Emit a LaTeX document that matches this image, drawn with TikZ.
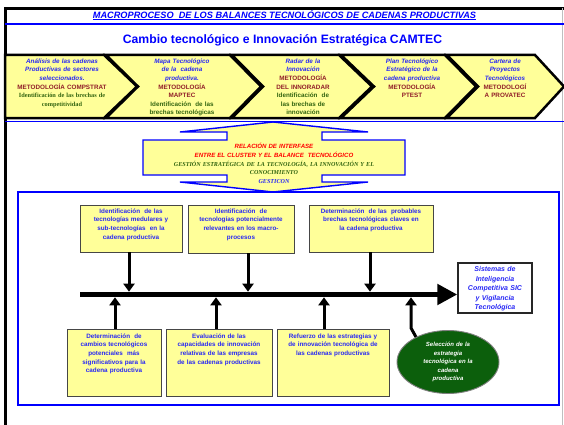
\documentclass[tikz,border=0pt]{standalone}
\usepackage{fontspec}
\setmainfont{Liberation Sans}
\newfontfamily\timesfont{Liberation Serif}
\usetikzlibrary{arrows.meta,shapes.geometric}
\definecolor{pale}{RGB}{255,255,153}
\definecolor{txtblue}{RGB}{40,40,245}
\definecolor{metred}{RGB}{145,30,40}
\definecolor{brgreen}{RGB}{50,100,15}
\definecolor{selgreen}{RGB}{12,95,12}
\definecolor{edge}{RGB}{70,70,70}
\tikzstyle{chev} = [draw=black, line width=2.5pt, fill=pale]
\tikzstyle{chevtext} = [align=center, inner sep=0pt, text width=110pt, font=\fontsize{6.3}{8.6}\selectfont\bfseries]
\tikzstyle{box} = [draw=edge, line width=0.9pt, fill=pale, inner sep=0pt]
\tikzstyle{boxtext} = [align=center, inner sep=0pt, text width=125pt, text=txtblue, font=\fontsize{6.3}{8.6}\selectfont\bfseries]
\tikzstyle{feed} = [-{Triangle[length=8pt,width=11pt]}, line width=3pt]
\tikzstyle{mainline} = [-{Triangle[length=20pt,width=20pt]}, line width=5.5pt]

\begin{document}
\begin{tikzpicture}[x=1pt,y=-1pt]
    \useasboundingbox (0,0) rectangle (564,425);
    % marco y titulos
    \draw[line width=3pt] (5,425) -- (5,8.5) -- (564,8.5);
    \draw[gray!50, line width=0.6pt] (562.5,8.5) -- (562.5,425);
    \draw[blue, line width=1.3pt] (5,24) -- (564,24);
    \node[text=blue, font=\fontsize{9.2}{10}\selectfont\bfseries\itshape] (macro) at (284.5,15) {\underline{MACROPROCESO\ \ DE LOS BALANCES TECNOLÓGICOS DE CADENAS PRODUCTIVAS}};
    \node[text=blue, font=\fontsize{12.2}{13}\selectfont\bfseries] (camtec) at (282.5,40) {Cambio tecnológico e Innovación Estratégica CAMTEC};

    % cadena de metodologias
    \filldraw[chev] (5,55) -- (104,55) -- (137,86.5) -- (104,118) -- (5,118) -- cycle;
    \filldraw[chev] (106,55) -- (230,55) -- (261,86.5) -- (230,118) -- (106,118) -- (138,86.5) -- cycle;
    \filldraw[chev] (232,55) -- (339,55) -- (372,86.5) -- (339,118) -- (232,118) -- (263,86.5) -- cycle;
    \filldraw[chev] (341,55) -- (445,55) -- (476,86.5) -- (445,118) -- (341,118) -- (374,86.5) -- cycle;
    \filldraw[chev] (447,55) -- (535,55) -- (564,86.5) -- (535,118) -- (447,118) -- (478,86.5) -- cycle;
    \draw[blue, line width=1.3pt] (5,121.5) -- (564,121.5);

    \node[chevtext, anchor=north] (compstrat) at (62,58.5) {\textcolor{txtblue}{\itshape Análisis de las cadenas}\\ \textcolor{txtblue}{\itshape Productivas de sectores}\\ \textcolor{txtblue}{\itshape seleccionados.}\\ \textcolor{metred}{METODOLOGÍA COMPSTRAT}\\ \textcolor{brgreen}{\timesfont Identificación de las brechas de}\\ \textcolor{brgreen}{\timesfont competitividad}};
    \node[chevtext, anchor=north] (maptec) at (182,58.5) {\textcolor{txtblue}{\itshape Mapa Tecnológico}\\ \textcolor{txtblue}{\itshape de la\ \ cadena}\\ \textcolor{txtblue}{\itshape productiva.}\\ \textcolor{metred}{METODOLOGÍA}\\ \textcolor{metred}{MAPTEC}\\ \textcolor{brgreen}{Identificación\ \ de las}\\ \textcolor{brgreen}{brechas tecnológicas}};
    \node[chevtext, anchor=north] (innoradar) at (303,58.5) {\textcolor{txtblue}{\itshape Radar de la}\\ \textcolor{txtblue}{\itshape Innovación}\\ \textcolor{metred}{METODOLOGÍA}\\ \textcolor{metred}{DEL INNORADAR}\\ \textcolor{brgreen}{Identificación\ \ de}\\ \textcolor{brgreen}{las brechas de}\\ \textcolor{brgreen}{innovación}};
    \node[chevtext, anchor=north] (ptest) at (412,58.5) {\textcolor{txtblue}{\itshape Plan Tecnológico}\\ \textcolor{txtblue}{\itshape Estratégico de la}\\ \textcolor{txtblue}{\itshape cadena productiva}\\ \textcolor{metred}{METODOLOGÍA}\\ \textcolor{metred}{PTEST}};
    \node[chevtext, anchor=north] (provatec) at (505,58.5) {\textcolor{txtblue}{\itshape Cartera de}\\ \textcolor{txtblue}{\itshape Proyectos}\\ \textcolor{txtblue}{\itshape Tecnológicos}\\ \textcolor{metred}{METODOLOGÍ}\\ \textcolor{metred}{A PROVATEC}};

    % relacion de interfase
    \filldraw[draw=blue, line width=1.4pt, fill=pale] (273,122) -- (368,132) -- (322,132) -- (322,140) -- (405,140) -- (405,175) -- (322,175) -- (322,182) -- (368,182) -- (273,192) -- (180,182) -- (227,182) -- (227,175) -- (143,175) -- (143,140) -- (227,140) -- (227,132) -- (180,132) -- cycle;
    \node[chevtext, text width=250pt, font=\fontsize{6.1}{8.7}\selectfont\bfseries] (gesticon) at (274,163.5) {\textcolor{red}{\itshape RELACIÓN DE INTERFASE}\\ \textcolor{red}{\itshape ENTRE EL CLUSTER Y EL BALANCE\ \ TECNOLÓGICO}\\ \textcolor{brgreen}{\timesfont\itshape GESTIÓN ESTRATÉGICA DE LA TECNOLOGÍA, LA INNOVACIÓN Y EL}\\ \textcolor{brgreen}{\timesfont\itshape CONOCIMIENTO}\\ \textcolor{txtblue}{\timesfont\itshape GESTICON}};

    % balance tecnologico
    \draw[blue, line width=2pt] (18,192) rectangle (559,404.5);

    \node[box, minimum width=102pt, minimum height=47pt] (idmed) at (131,228.5) {};
    \node[box, minimum width=106pt, minimum height=48pt] (idpot) at (241,229) {};
    \node[box, minimum width=124pt, minimum height=47pt] (detbre) at (371,228.5) {};
    \node[box, minimum width=94pt, minimum height=67pt] (detcam) at (114,362.5) {};
    \node[box, minimum width=106pt, minimum height=67pt] (evacap) at (219,362.5) {};
    \node[box, minimum width=112pt, minimum height=67pt] (refest) at (333,362.5) {};

    \node[boxtext, anchor=north] (idmedtx) at ([yshift=-4pt]idmed.north) {Identificación\ \ de las\\ tecnologías medulares y\\ sub-tecnologías\ \ en la\\ cadena productiva};
    \node[boxtext, anchor=north] (idpottx) at ([yshift=-4pt]idpot.north) {Identificación\ \ de\\ tecnologías potencialmente\\ relevantes en los macro-\\ procesos};
    \node[boxtext, anchor=north] (detbretx) at ([yshift=-4pt]detbre.north) {Determinación\ \ de las\ \ probables\\ brechas tecnológicas claves en\\ la cadena productiva};
    \node[boxtext, anchor=north] (detcamtx) at ([yshift=-5pt]detcam.north) {Determinación\ \ de\\ cambios tecnológicos\\ potenciales\ \ más\\ significativos para la\\ cadena productiva};
    \node[boxtext, anchor=north] (evacaptx) at ([yshift=-5pt]evacap.north) {Evaluación de las\\ capacidades de innovación\\ relativas de las empresas\\ de las cadenas productivas};
    \node[boxtext, anchor=north] (refesttx) at ([yshift=-5pt]refest.north) {Refuerzo de las estrategias y\\ de innovación tecnológica de\\ las cadenas productivas};

    \node[draw=black!85, line width=1.4pt, fill=white, minimum width=74pt, minimum height=50pt, inner sep=0pt] (sic) at (495,288) {};
    \node[boxtext, text width=80pt, font=\fontsize{7}{9.5}\selectfont\bfseries\itshape] (sictx) at (495,289) {Sistemas de\\ Inteligencia\\ Competitiva SIC\\ y Vigilancia\\ Tecnológica};

    \node[ellipse, draw=gray, line width=0.9pt, fill=selgreen, text=white, minimum width=102pt, minimum height=63pt, inner sep=0pt, align=center, text width=62pt, font=\fontsize{6}{8.5}\selectfont\bfseries\itshape] (sel) at (448,362) {Selección de la\\ estrategia\\ tecnológica en la\\ cadena\\ productiva};

    % flechas hacia la linea central
    \coordinate (lstart) at (80,294.5);
    \coordinate (fA) at (129,291.7);
    \coordinate (fB) at (248,291.7);
    \coordinate (fC) at (370,291.7);
    \coordinate (fD) at (115,297.3);
    \coordinate (fE) at (216,297.3);
    \coordinate (fF) at (324,297.3);
    \coordinate (fG) at (411,297.3);
    \coordinate (selbend) at (411,328);

    \draw[mainline] (lstart) -- (lstart -| sic.west);
    \draw[feed] (idmed.south -| fA) -- (fA);
    \draw[feed] (idpot.south -| fB) -- (fB);
    \draw[feed] (detbre.south -| fC) -- (fC);
    \draw[feed] (detcam.north -| fD) -- (fD);
    \draw[feed] (evacap.north -| fE) -- (fE);
    \draw[feed] (refest.north -| fF) -- (fF);
    \draw[feed] (sel.142) -- (selbend) -- (fG);
\end{tikzpicture}
\end{document}
